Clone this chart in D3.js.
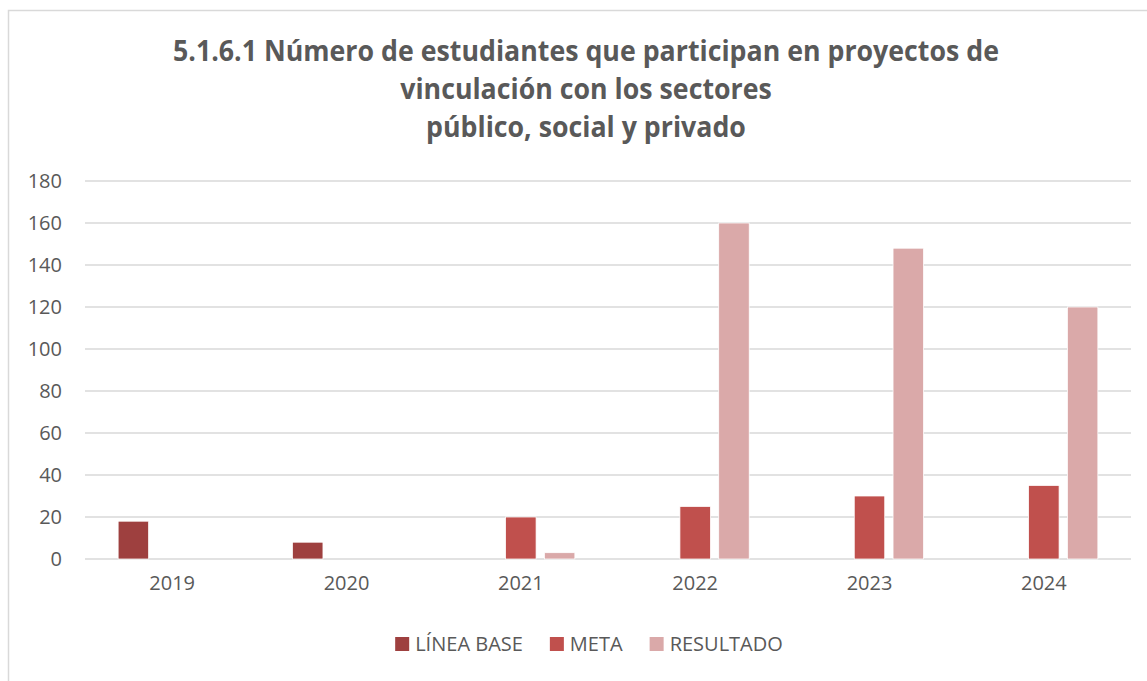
<!DOCTYPE html>
<html>
<head>
<meta charset="utf-8">
<script src="https://cdn.jsdelivr.net/npm/d3@7"></script>
<style>
  html, body { margin: 0; padding: 0; background: #fff; }
  svg { display: block; }
</style>
</head>
<body>
<script>
const years = ["2019", "2020", "2021", "2022", "2023", "2024"];
const seriesNames = ["LÍNEA BASE", "META", "RESULTADO"];
const lineaBase = [18, 8, null, null, null, null];
const meta = [null, null, 20, 25, 30, 35];
const resultado = [null, null, 3, 160, 148, 120];
const yTicks = [0, 20, 40, 60, 80, 100, 120, 140, 160, 180];
const colors = ["#9E403F", "#C0504D", "#DAA9A9"];
const titleLines = [
  "5.1.6.1 Número de estudiantes que participan en proyectos de",
  "vinculación con los sectores",
  "público, social y privado"
];

const W = 1147, H = 681;
const svg = d3.select("body").append("svg").attr("width", W).attr("height", H);
const font = "'Open Sans', 'Noto Sans', sans-serif";
const textColor = "#595959";

// chart border
svg.append("rect").attr("x", 8.5).attr("y", 10.5).attr("width", 1200).attr("height", 800)
  .attr("fill", "#fff").attr("stroke", "#D9D9D9").attr("stroke-width", 1.5);

// title
const centerX = 586;
const title = svg.append("g");
const tl = title.selectAll("text").data(titleLines).join("text")
  .attr("x", centerX).attr("y", (d, i) => 61 + i * 38)
  .attr("text-anchor", "middle")
  .attr("font-family", font).attr("font-weight", "bold")
  .attr("fill", textColor).attr("font-size", 30)
  .text(d => d);
const w0 = tl.nodes()[0].getComputedTextLength();
const fs = 30 * 826 / w0;
const lens = tl.nodes().map(n => n.getComputedTextLength() * fs / 30);
tl.attr("font-size", fs * 1.08)
  .attr("textLength", (d, i) => lens[i])
  .attr("lengthAdjust", "spacingAndGlyphs");

// scales
const margin = { left: 85, right: 1131, top: 181, bottom: 559 };
const x0 = d3.scaleBand().domain(years).range([margin.left, margin.right]).padding(0);
const bw = x0.bandwidth();
const step = bw * 0.2225;
const x1 = d3.scaleBand().domain(seriesNames)
  .range([(bw - 3 * step) / 2, (bw + 3 * step) / 2])
  .paddingInner(0.214).paddingOuter(0.107);
const y = d3.scaleLinear().domain([0, 180]).range([margin.bottom, margin.top]);

// grid
svg.append("g").selectAll("line").data(yTicks).join("line")
  .attr("x1", margin.left).attr("x2", margin.right)
  .attr("y1", d => y(d)).attr("y2", d => y(d))
  .attr("stroke", "#D9D9D9").attr("stroke-width", 1.5);

// y axis
const yAxis = d3.axisLeft(y).tickValues(yTicks).tickSize(0).tickPadding(0);
const yg = svg.append("g").attr("transform", `translate(62,0)`).call(yAxis);
yg.select(".domain").remove();
yg.selectAll("text").attr("font-family", font).attr("font-size", 20).attr("fill", textColor);

// x axis
const xAxis = d3.axisBottom(x0).tickSize(0).tickPadding(0);
const xg = svg.append("g").attr("transform", `translate(0,576)`).call(xAxis);
xg.select(".domain").remove();
xg.selectAll("text").attr("font-family", font).attr("font-size", 20).attr("fill", textColor).attr("dy", "0.71em");

// bars
const seriesData = [lineaBase, meta, resultado];
const groups = svg.append("g").selectAll("g").data(seriesData).join("g")
  .attr("fill", (d, i) => colors[i]);
groups.each(function(vals, si) {
  d3.select(this).selectAll("rect")
    .data(vals.map((v, i) => ({ year: years[i], v })).filter(d => d.v !== null))
    .join("rect")
    .attr("x", d => x0(d.year) + x1(seriesNames[si]))
    .attr("width", x1.bandwidth())
    .attr("y", d => y(d.v))
    .attr("height", d => y(0) - y(d.v))
    .attr("stroke", "#fff").attr("stroke-width", 0.75);
});

// legend
const legend = svg.append("g");
const items = legend.selectAll("g").data(seriesNames).join("g");
items.append("rect").attr("width", 14).attr("height", 14).attr("y", 637)
  .attr("fill", (d, i) => colors[i]);
items.append("text").attr("x", 20).attr("y", 651)
  .attr("font-family", font).attr("font-size", 20).attr("fill", textColor)
  .text(d => d);
const widths = items.select("text").nodes().map(n => 20 + n.getComputedTextLength());
const gap = 27;
const total = d3.sum(widths) + gap * (widths.length - 1);
let cx = 589 - total / 2;
items.each(function(d, i) {
  d3.select(this).attr("transform", `translate(${cx},0)`);
  cx += widths[i] + gap;
});
</script>
</body>
</html>
